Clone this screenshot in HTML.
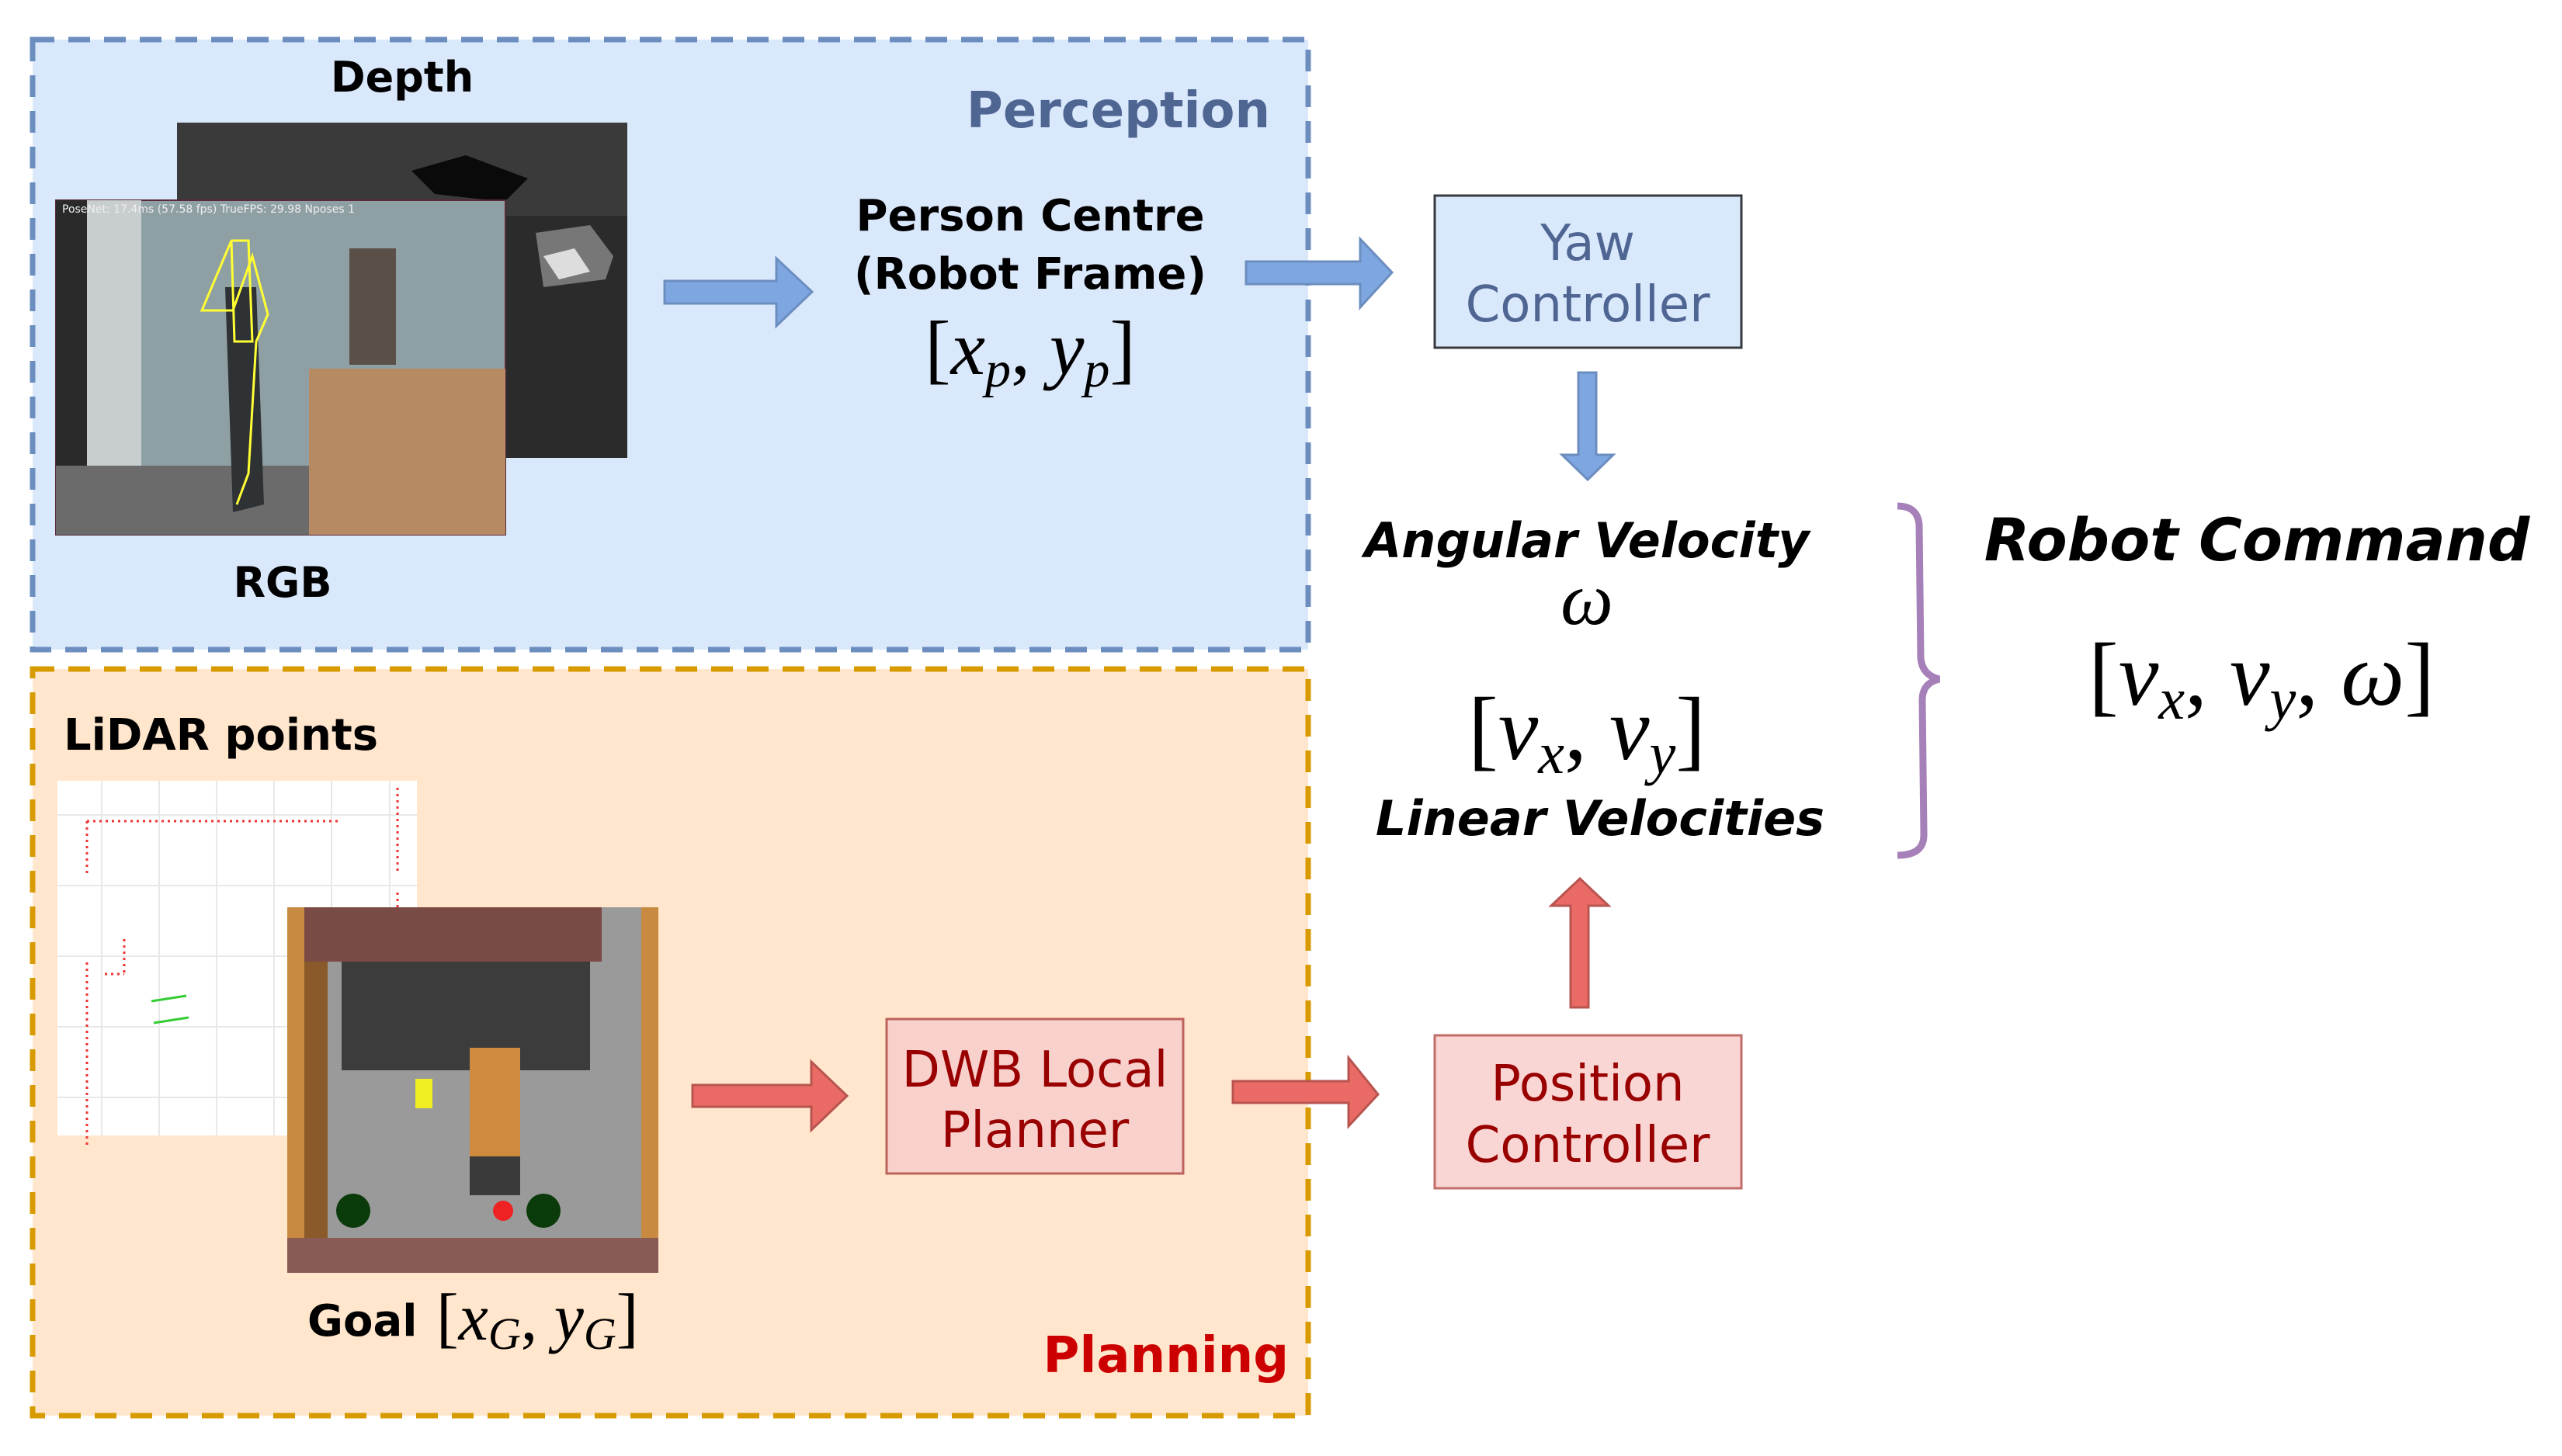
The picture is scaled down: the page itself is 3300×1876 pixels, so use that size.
<!DOCTYPE html>
<html><head><meta charset="utf-8"><style>
html,body{margin:0;padding:0;background:#fff}
svg{display:block}
.b{font-family:"DejaVu Sans",sans-serif;font-weight:bold}
.n{font-family:"DejaVu Sans",sans-serif}
.m{font-family:"Liberation Serif",serif;font-style:italic}
.mr{font-family:"Liberation Serif",serif}
</style></head><body>
<svg width="3300" height="1876" viewBox="0 0 3300 1876" xmlns="http://www.w3.org/2000/svg">
<rect x="42" y="51" width="1643" height="786" fill="#dae8fc" stroke="#6c8ebf" stroke-width="7" stroke-dasharray="28,18"/>
<rect x="42" y="862" width="1643" height="962" fill="#ffe6cc" stroke="#d79b00" stroke-width="7" stroke-dasharray="28,18"/>

<text x="518" y="118" class="b" font-size="54" text-anchor="middle" fill="#000">Depth</text>
<text x="1636" y="164" class="b" font-size="64" text-anchor="end" fill="#4f6592">Perception</text>

<rect x="228" y="158" width="580" height="432" fill="#2b2b2b"/>
<rect x="228" y="158" width="580" height="120" fill="#3a3a3a"/>
<path d="M690 300 L760 290 L790 330 L780 360 L700 370 Z" fill="#777"/>
<path d="M700 330 L740 320 L760 350 L720 360 Z" fill="#ddd"/>
<path d="M530 220 L600 200 L680 230 L650 260 L560 250 Z" fill="#0a0a0a"/>
<rect x="72" y="258" width="579" height="431" fill="#8fa0a4" stroke="#5a2a3a" stroke-width="2"/>
<rect x="72" y="258" width="110" height="431" fill="#c8cdd0"/>
<rect x="72" y="258" width="40" height="431" fill="#2a2a2a"/>
<rect x="72" y="600" width="579" height="89" fill="#6b6b6b"/>
<rect x="398" y="475" width="253" height="214" fill="#b68a62"/>
<rect x="450" y="320" width="60" height="150" fill="#5a5048"/>
<path d="M290 370 L330 370 L340 650 L300 660 Z" fill="#2e3235"/>
<polyline points="298,310 320,310 325,440 302,440 298,310 260,400 300,400 325,330 345,405 330,440 320,610 305,650" fill="none" stroke="#ffff33" stroke-width="3"/>
<text x="80" y="274" class="n" font-size="14" fill="#eee">PoseNet: 17.4ms (57.58 fps) TrueFPS: 29.98 Nposes 1</text>

<text x="364" y="769" class="b" font-size="54" text-anchor="middle" fill="#000">RGB</text>

<polygon points="856,362 1000,362 1000,333 1046,376 1000,420 1000,391 856,391" fill="#7ea6e0" stroke="#6c8ebf" stroke-width="3"/>
<text x="1327" y="297" class="b" font-size="56" text-anchor="middle">Person Centre</text>
<text x="1327" y="372" class="b" font-size="56" text-anchor="middle">(Robot Frame)</text>
<text x="1327" y="482" class="mr" font-size="100" text-anchor="middle"><tspan>[</tspan><tspan class="m">x</tspan><tspan class="m" font-size="66" dy="16">p</tspan><tspan dy="-16">, </tspan><tspan class="m">y</tspan><tspan class="m" font-size="66" dy="16">p</tspan><tspan dy="-16">]</tspan></text>

<polygon points="1605,337 1752,337 1752,308 1793,351 1752,396 1752,366 1605,366" fill="#7ea6e0" stroke="#6c8ebf" stroke-width="3"/>
<rect x="1848" y="252" width="395" height="196" fill="#dae8fc" stroke="#36393d" stroke-width="3"/>
<text x="2045" y="335" class="n" font-size="64" text-anchor="middle" fill="#4f6592">Yaw</text>
<text x="2045" y="414" class="n" font-size="64" text-anchor="middle" fill="#4f6592">Controller</text>
<polygon points="2033,480 2056,480 2056,586 2078,586 2045,618 2012,586 2033,586" fill="#7ea6e0" stroke="#6c8ebf" stroke-width="3"/>

<text x="2044" y="718" class="b" font-size="62" font-style="italic" text-anchor="middle">Angular Velocity</text>
<text x="2044" y="804" class="m" font-size="96" text-anchor="middle">ω</text>
<text x="2044" y="978" class="mr" font-size="116" text-anchor="middle"><tspan>[</tspan><tspan class="m">v</tspan><tspan class="m" font-size="76" dy="18">x</tspan><tspan dy="-18">, </tspan><tspan class="m">v</tspan><tspan class="m" font-size="76" dy="18">y</tspan><tspan dy="-18">]</tspan></text>
<text x="2061" y="1076" class="b" font-size="62" font-style="italic" text-anchor="middle">Linear Velocities</text>

<path d="M2444 652 Q2470 652 2472 676 L2474 848 Q2476 870 2498 875 Q2476 880 2476 902 L2478 1076 Q2478 1102 2444 1102" fill="none" stroke="#a680b8" stroke-width="9"/>
<text x="2907" y="722" class="b" font-size="76" font-style="italic" text-anchor="middle">Robot Command</text>
<text x="2913" y="908" class="mr" font-size="116" text-anchor="middle"><tspan>[</tspan><tspan class="m">v</tspan><tspan class="m" font-size="76" dy="18">x</tspan><tspan dy="-18">, </tspan><tspan class="m">v</tspan><tspan class="m" font-size="76" dy="18">y</tspan><tspan dy="-18">, </tspan><tspan class="m">ω</tspan><tspan>]</tspan></text>

<polygon points="2023,1298 2046,1298 2046,1167 2072,1167 2035,1132 1998,1167 2023,1167" fill="#ea6b66" stroke="#b85450" stroke-width="3"/>
<rect x="1848" y="1334" width="395" height="197" fill="#f8cecc" stroke="#b85450" stroke-width="3" opacity="0.85"/>
<text x="2045" y="1418" class="n" font-size="64" text-anchor="middle" fill="#990000">Position</text>
<text x="2045" y="1497" class="n" font-size="64" text-anchor="middle" fill="#990000">Controller</text>

<text x="82" y="966" class="b" font-size="56" fill="#000">LiDAR points</text>
<rect x="74" y="1006" width="463" height="457" fill="#fff"/>
<g stroke="#e8e8e8" stroke-width="2">
<line x1="74" y1="1050" x2="537" y2="1050"/><line x1="74" y1="1141" x2="537" y2="1141"/><line x1="74" y1="1232" x2="537" y2="1232"/><line x1="74" y1="1323" x2="537" y2="1323"/><line x1="74" y1="1414" x2="537" y2="1414"/>
<line x1="131" y1="1006" x2="131" y2="1463"/><line x1="205" y1="1006" x2="205" y2="1463"/><line x1="279" y1="1006" x2="279" y2="1463"/><line x1="353" y1="1006" x2="353" y2="1463"/><line x1="427" y1="1006" x2="427" y2="1463"/><line x1="502" y1="1006" x2="502" y2="1463"/>
</g>
<g stroke="#e33" stroke-width="3" stroke-dasharray="3,5" fill="none">
<line x1="112" y1="1058" x2="440" y2="1058"/><line x1="112" y1="1058" x2="112" y2="1125"/>
<line x1="512" y1="1015" x2="512" y2="1125"/><line x1="512" y1="1150" x2="512" y2="1200"/>
<line x1="112" y1="1240" x2="112" y2="1480"/><line x1="160" y1="1210" x2="160" y2="1255"/><line x1="135" y1="1255" x2="160" y2="1255"/>
</g>
<g stroke="#3c3" stroke-width="3"><line x1="195" y1="1290" x2="240" y2="1283"/><line x1="198" y1="1318" x2="243" y2="1311"/></g>
<rect x="370" y="1169" width="478" height="471" fill="#9a9a9a"/>
<rect x="370" y="1169" width="405" height="70" fill="#7a4a45"/>
<rect x="440" y="1239" width="320" height="140" fill="#3c3c3c"/>
<rect x="370" y="1169" width="22" height="471" fill="#c88a40"/>
<rect x="392" y="1239" width="30" height="380" fill="#8a5a2a"/>
<rect x="826" y="1169" width="22" height="471" fill="#c88a40"/>
<rect x="370" y="1595" width="478" height="45" fill="#8a5a55"/>
<rect x="605" y="1350" width="65" height="140" fill="#d08a40"/>
<rect x="605" y="1490" width="65" height="50" fill="#3a3a3a"/>
<rect x="535" y="1390" width="22" height="38" fill="#ee2"/>
<circle cx="648" cy="1560" r="13" fill="#e22"/>
<circle cx="455" cy="1560" r="22" fill="#0b3a0b"/>
<circle cx="700" cy="1560" r="22" fill="#0b3a0b"/>

<text x="396" y="1721" class="b" font-size="56" fill="#000">Goal</text>
<text x="562" y="1726" class="mr" font-size="86"><tspan>[</tspan><tspan class="m">x</tspan><tspan class="m" font-size="58" dy="12">G</tspan><tspan dy="-12">, </tspan><tspan class="m">y</tspan><tspan class="m" font-size="58" dy="12">G</tspan><tspan dy="-12">]</tspan></text>

<polygon points="892,1398 1045,1398 1045,1368 1091,1412 1045,1456 1045,1426 892,1426" fill="#ea6b66" stroke="#b85450" stroke-width="3"/>
<rect x="1142" y="1313" width="382" height="199" fill="#f8cecc" stroke="#b85450" stroke-width="3" opacity="0.9"/>
<text x="1333" y="1400" class="n" font-size="64" text-anchor="middle" fill="#990000">DWB Local</text>
<text x="1333" y="1478" class="n" font-size="64" text-anchor="middle" fill="#990000">Planner</text>
<polygon points="1588,1393 1737,1393 1737,1363 1775,1410 1737,1451 1737,1421 1588,1421" fill="#ea6b66" stroke="#b85450" stroke-width="3"/>

<text x="1660" y="1768" class="b" font-size="64" text-anchor="end" fill="#cc0000">Planning</text>
</svg>
</body></html>
